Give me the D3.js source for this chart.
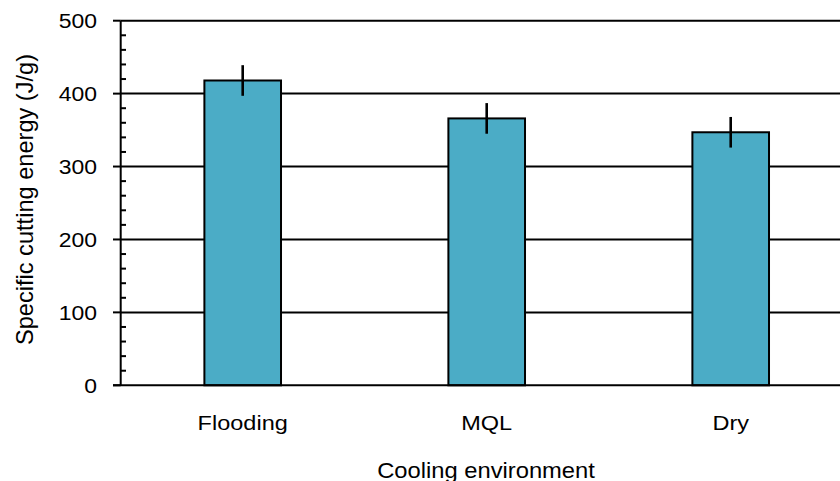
<!DOCTYPE html>
<html><head><meta charset="utf-8">
<script src="https://cdn.jsdelivr.net/npm/d3@7"></script>
<style>body{margin:0;background:#fff}svg{display:block}text{font-family:"Liberation Sans",Arial,sans-serif;fill:#000}</style>
</head><body><svg id="c" width="840" height="481"></svg>
<script>
const categories = ["Flooding", "MQL", "Dry"];
const values = [418, 366, 347];
const errors = [21, 21, 21];
const yTicks = [0, 100, 200, 300, 400, 500];
const yMinorTicks = [20,40,60,80,120,140,160,180,220,240,260,280,320,340,360,380,420,440,460,480];
const xTitle = "Cooling environment";
const yTitle = "Specific cutting energy (J/g)";

(function () {
const svg = d3.select("#c");
const pLeft = 120.7, pRight = 852.7, pTop = 20.7, pBottom = 385.3;
const y = d3.scaleLinear().domain([0, 500]).range([pBottom, pTop]);
const x = d3.scaleBand().domain(categories).range([pLeft, pRight]).padding(0);
const barW = x.bandwidth() * 0.314;
const sx = 1.12;

// gridlines
svg.append("g").selectAll("line").data(yTicks.filter(d => d > 0)).join("line")
  .attr("x1", pLeft).attr("x2", pRight).attr("y1", d => y(d)).attr("y2", d => y(d))
  .attr("stroke", "#000").attr("stroke-width", 2);

// bars
svg.append("g").selectAll("rect").data(values).join("rect")
  .attr("x", (d, i) => x(categories[i]) + x.bandwidth() / 2 - barW / 2)
  .attr("width", barW)
  .attr("y", d => y(d)).attr("height", d => y(0) - y(d))
  .attr("fill", "#4BACC6").attr("stroke", "#000").attr("stroke-width", 2);

// error bars
svg.append("g").selectAll("line").data(values).join("line")
  .attr("x1", (d, i) => x(categories[i]) + x.bandwidth() / 2)
  .attr("x2", (d, i) => x(categories[i]) + x.bandwidth() / 2)
  .attr("y1", (d, i) => y(d + errors[i])).attr("y2", (d, i) => y(d - errors[i]))
  .attr("stroke", "#000").attr("stroke-width", 2.6);

// y axis line
svg.append("line").attr("x1", pLeft).attr("x2", pLeft).attr("y1", pTop).attr("y2", pBottom)
  .attr("stroke", "#000").attr("stroke-width", 2);
// x axis line
svg.append("line").attr("x1", 113).attr("x2", pRight).attr("y1", pBottom).attr("y2", pBottom)
  .attr("stroke", "#000").attr("stroke-width", 2);
// major ticks
svg.append("g").selectAll("line").data(yTicks).join("line")
  .attr("x1", 113).attr("x2", pLeft).attr("y1", d => y(d)).attr("y2", d => y(d))
  .attr("stroke", "#000").attr("stroke-width", 2);
// minor ticks
svg.append("g").selectAll("line").data(yMinorTicks).join("line")
  .attr("x1", pLeft).attr("x2", 126).attr("y1", d => y(d)).attr("y2", d => y(d))
  .attr("stroke", "#000").attr("stroke-width", 2);

// tick labels
svg.append("g").selectAll("text").data(yTicks).join("text")
  .attr("transform", d => `translate(97,${y(d) + 7.5}) scale(${sx},1)`)
  .attr("text-anchor", "end").attr("font-size", 20.5).text(d => d);

// category labels
svg.append("g").selectAll("text").data(categories).join("text")
  .attr("transform", d => `translate(${x(d) + x.bandwidth() / 2},430) scale(${sx},1)`)
  .attr("text-anchor", "middle").attr("font-size", 21).text(d => d);

// axis titles
svg.append("text").attr("transform", `translate(486,477.5) scale(1.08,1)`)
  .attr("text-anchor", "middle").attr("font-size", 22).text(xTitle);
svg.append("text").attr("transform", `translate(33.3,199.5) rotate(-90)`)
  .attr("text-anchor", "middle").attr("font-size", 23.6).text(yTitle);
})();
</script></body></html>
